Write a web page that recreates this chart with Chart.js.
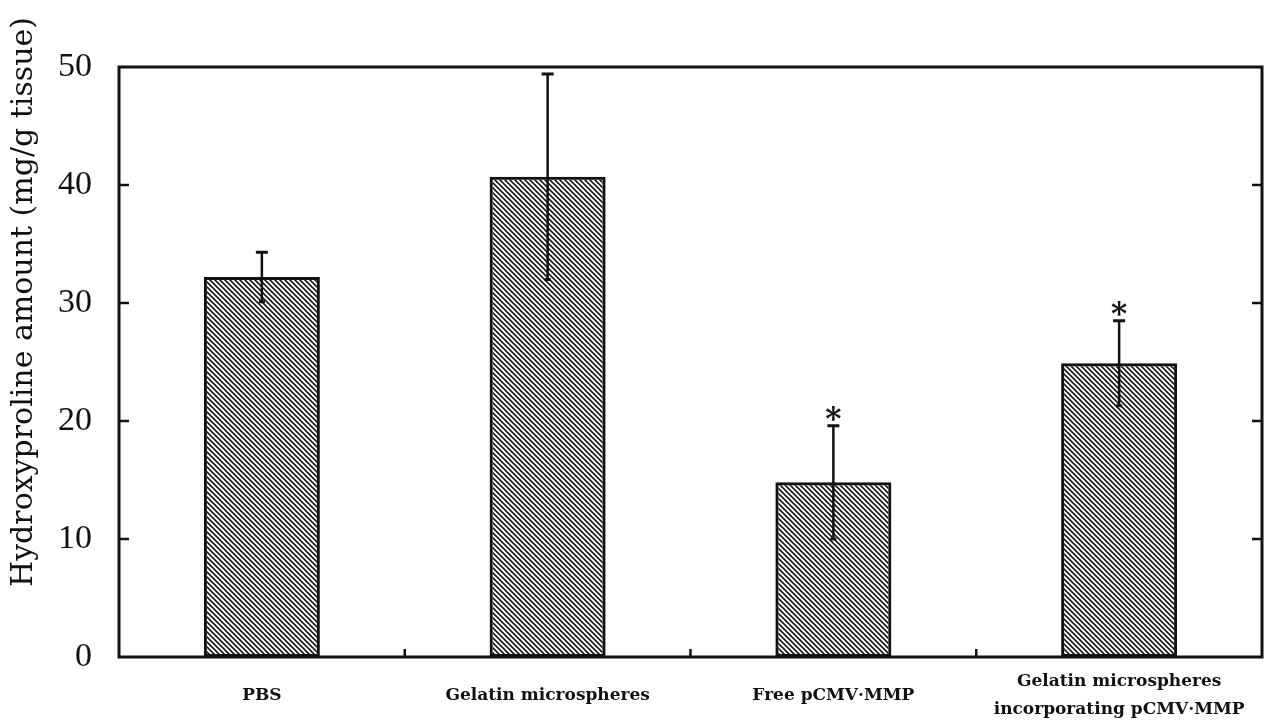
<!DOCTYPE html>
<html>
<head>
<meta charset="utf-8">
<script src="https://cdn.jsdelivr.net/npm/chart.js@4"></script>
<style>
  html, body { margin: 0; padding: 0; background: #fff; }
</style>
</head>
<body>
<canvas id="chart" width="1276" height="726"></canvas>
<script>
const categories = ["PBS", "Gelatin microspheres", "Free pCMV·MMP", ["Gelatin microspheres", "incorporating pCMV·MMP"]];
const means = [32.2, 40.7, 14.8, 24.9];
const errors = [2.1, 8.7, 4.8, 3.6];
const significant = [false, false, true, true];
const yTicks = [0, 10, 20, 30, 40, 50];
const yTitle = "Hydroxyproline amount (mg/g tissue)";

const INK = "#111";

function makeHatch() {
    const c = document.createElement("canvas");
    c.width = 5; c.height = 5;
    const g = c.getContext("2d");
    g.strokeStyle = "#1a1a1a";
    g.lineWidth = 1.6;
    g.beginPath();
    for (let k = -1; k <= 1; k++) {
        g.moveTo(k * 5 - 1, -1);
        g.lineTo(k * 5 + 6, 6);
    }
    g.stroke();
    return g.createPattern(c, "repeat");
}

// frame, inward ticks, error bars, asterisks, rotated y title
const decorations = {
    id: "decorations",
    afterDatasetsDraw(chart) {
        const { ctx, chartArea: a, scales: { x, y } } = chart;
        ctx.save();
        ctx.strokeStyle = INK;
        ctx.fillStyle = INK;

        ctx.lineWidth = 3;
        ctx.strokeRect(a.left, a.top, a.right - a.left, a.bottom - a.top);

        ctx.lineWidth = 2.5;
        ctx.beginPath();
        yTicks.slice(1, -1).forEach(v => {
            const py = y.getPixelForValue(v);
            ctx.moveTo(a.left, py); ctx.lineTo(a.left + 10, py);
            ctx.moveTo(a.right, py); ctx.lineTo(a.right - 10, py);
        });
        for (let i = 0; i < categories.length - 1; i++) {
            const px = (x.getPixelForValue(i) + x.getPixelForValue(i + 1)) / 2;
            ctx.moveTo(px, a.bottom); ctx.lineTo(px, a.bottom - 8);
        }
        ctx.stroke();

        means.forEach((m, i) => {
            const px = x.getPixelForValue(i);
            const top = y.getPixelForValue(m + errors[i]);
            const low = y.getPixelForValue(m - errors[i]);
            ctx.lineWidth = 2.5;
            ctx.beginPath();
            ctx.moveTo(px, low); ctx.lineTo(px, top);
            ctx.stroke();
            ctx.lineWidth = 3;
            ctx.beginPath();
            ctx.moveTo(px - 6, top); ctx.lineTo(px + 6, top);
            ctx.moveTo(px - 3, low); ctx.lineTo(px + 3, low);
            ctx.stroke();
            if (significant[i]) {
                ctx.font = "bold 31px 'DejaVu Serif'";
                ctx.textAlign = "center";
                ctx.textBaseline = "alphabetic";
                ctx.fillText("*", px, top + 3);
            }
        });

        ctx.translate(24, (a.top + a.bottom) / 2 - 60);
        ctx.rotate(-Math.PI / 2);
        ctx.font = "30px 'DejaVu Serif'";
        ctx.textAlign = "center";
        ctx.textBaseline = "middle";
        ctx.fillText(yTitle, 0, 0);
        ctx.restore();
    }
};

new Chart(document.getElementById("chart"), {
    type: "bar",
    data: {
        labels: categories,
        datasets: [{
            data: means,
            backgroundColor: makeHatch(),
            borderColor: INK,
            borderWidth: 3,
            borderSkipped: false,
            barPercentage: 0.406,
            categoryPercentage: 1
        }]
    },
    options: {
        responsive: false,
        animation: false,
        devicePixelRatio: 1,
        layout: { padding: { left: 0, top: 67, right: 14, bottom: 0 } },
        plugins: { legend: { display: false }, tooltip: { enabled: false } },
        scales: {
            x: {
                grid: { display: false, drawTicks: false },
                border: { display: false },
                afterFit: s => { s.height = 69; },
                ticks: {
                    color: INK,
                    padding: 25,
                    crossAlign: "center",
                    autoSkip: false,
                    maxRotation: 0,
                    font: { family: "'DejaVu Serif'", size: 17, weight: "bold", lineHeight: 1.65 }
                }
            },
            y: {
                min: 0,
                max: 50,
                grid: { display: false, drawTicks: false },
                border: { display: false },
                afterFit: s => { s.width = 119; },
                afterBuildTicks: s => { s.ticks = yTicks.map(v => ({ value: v })); },
                ticks: {
                    color: INK,
                    padding: 27,
                    font: { family: "'Liberation Serif'", size: 34 }
                }
            }
        }
    },
    plugins: [decorations]
});
</script>
</body>
</html>
